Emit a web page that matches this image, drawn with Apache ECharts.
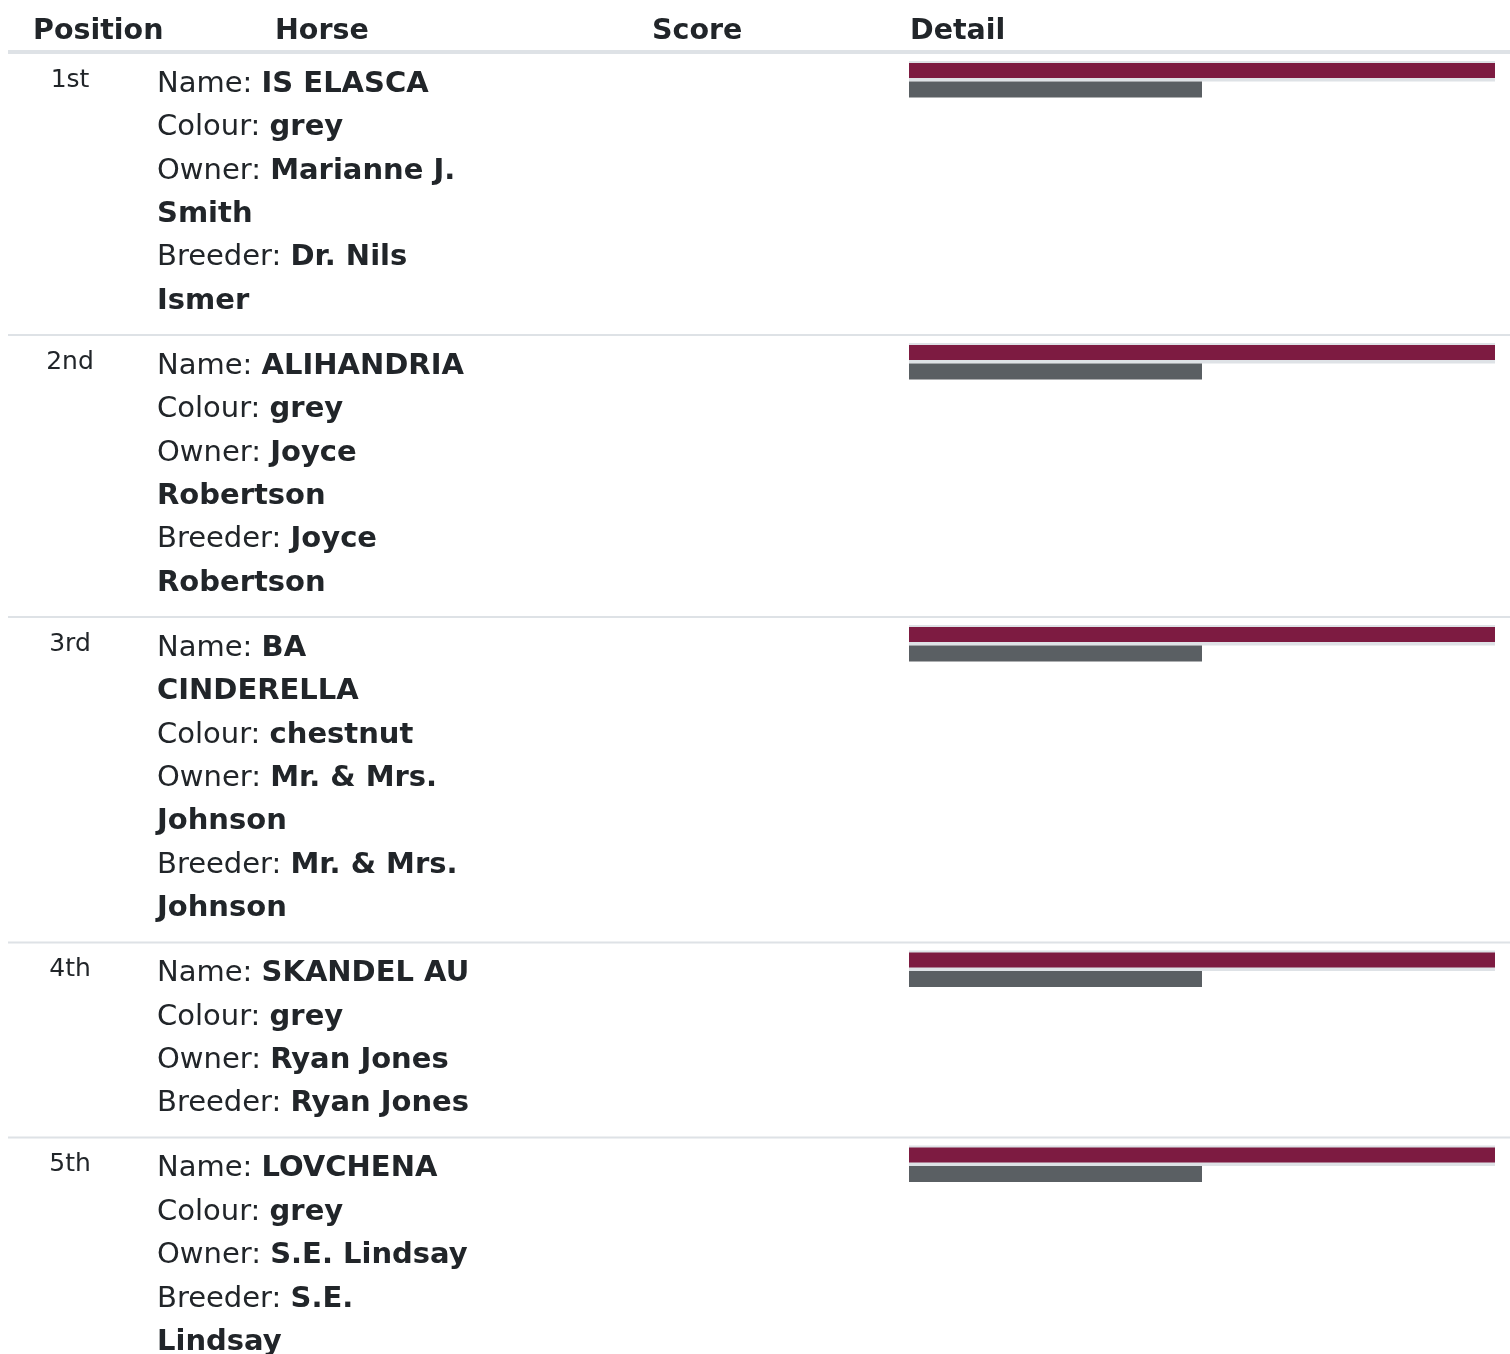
<!DOCTYPE html>
<html>
<head>
<meta charset="utf-8">
<script src="https://cdn.jsdelivr.net/npm/echarts@6/dist/echarts.min.js"></script>
<style>
  html, body { margin: 0; padding: 0; background: #fff; }
  #chart { width: 1510px; height: 1354px; }
</style>
</head>
<body>
<div id="chart"></div>
<script>
// table data
var headers = ['Position', 'Horse', 'Score', 'Detail'];
var positions = ['1st', '2nd', '3rd', '4th', '5th'];
var horseNames = ['IS ELASCA', 'ALIHANDRIA', 'BA CINDERELLA', 'SKANDEL AU', 'LOVCHENA'];
var colours = ['grey', 'grey', 'chestnut', 'grey', 'grey'];
var owners = ['Marianne J. Smith', 'Joyce Robertson', 'Mr. & Mrs. Johnson', 'Ryan Jones', 'S.E. Lindsay'];
var breeders = ['Dr. Nils Ismer', 'Joyce Robertson', 'Mr. & Mrs. Johnson', 'Ryan Jones', 'S.E. Lindsay'];
// bars in the Detail column
var scoreMax = 100;
var scores = [100, 100, 100, 100, 100];      // maroon bar
var details = [50, 50, 50, 50, 50];          // grey bar
var topMarks = [100, 100, null, 100, null];  // thin maroon line above the track
var barRows = ['score', 'detail'];

var FONT = '"DejaVu Sans", sans-serif';
var TEXT = '#212529';
var MAROON = '#7d1b41';
var GREY = '#5a5f63';
var TRACK = '#dee2e6';
var LINE_H = 43.4;
var BODY = 29;

var ctx = document.createElement('canvas').getContext('2d');
function textW(s, bold) {
  ctx.font = (bold ? 'bold ' : '') + BODY + 'px ' + FONT;
  return ctx.measureText(s).width;
}

// break "Label: value words" the way the narrow table column does
function wrapField(label, value, maxW) {
  var lines = [];
  var cur = { label: label, words: [] };
  value.split(' ').forEach(function (w) {
    var trial = cur.words.concat([w]).join(' ');
    var width = (cur.label ? textW(cur.label, false) : 0) + textW(trial, true);
    if (cur.words.length && width > maxW) {
      lines.push(cur);
      cur = { label: '', words: [w] };
    } else {
      cur.words.push(w);
    }
  });
  lines.push(cur);
  return lines;
}

var rich = {
  l: { fontSize: BODY, fontFamily: FONT, fill: TEXT },
  b: { fontSize: BODY, fontFamily: FONT, fontWeight: 'bold', fill: TEXT }
};

var graphic = [];
var grid = [], xAxis = [], yAxis = [], series = [];

// header
var headerX = [33, 275, 652, 910];
headers.forEach(function (h, i) {
  graphic.push({
    type: 'text', x: headerX[i], y: 32,
    style: { text: h, fontSize: 28.5, fontFamily: FONT, fontWeight: 'bold', fill: TEXT, verticalAlign: 'middle' }
  });
});
graphic.push({ type: 'rect', shape: { x: 8, y: 50, width: 1502, height: 4 }, style: { fill: TRACK } });

var top0 = 53;
positions.forEach(function (pos, i) {
  var lines = []
    .concat(wrapField('Name: ', horseNames[i], 320))
    .concat(wrapField('Colour: ', colours[i], 320))
    .concat(wrapField('Owner: ', owners[i], 320))
    .concat(wrapField('Breeder: ', breeders[i], 320));

  graphic.push({
    type: 'text', x: 70, y: top0 + 27,
    style: { text: pos, fontSize: 25, fontFamily: FONT, fill: TEXT, align: 'center', verticalAlign: 'middle' }
  });
  lines.forEach(function (ln, k) {
    var t = (ln.label ? '{l|' + ln.label + '}' : '') + '{b|' + ln.words.join(' ') + '}';
    graphic.push({
      type: 'text', x: 157, y: top0 + 31.3 + k * LINE_H,
      style: { text: t, rich: rich, fontSize: BODY, fontFamily: FONT, fill: TEXT, verticalAlign: 'middle' }
    });
  });

  // bars
  grid.push({ left: 909, width: 586, top: top0 + 8, height: 38 });
  xAxis.push({ type: 'value', gridIndex: i, min: 0, max: scoreMax, show: false });
  for (var k = 0; k < 3; k++) {
    yAxis.push({ type: 'category', gridIndex: i, data: barRows, inverse: true, show: false });
  }
  series.push({
    type: 'bar', xAxisIndex: i, yAxisIndex: i * 3, data: [topMarks[i], null],
    barWidth: 1.5, barGap: '-100%', z: 3, itemStyle: { color: MAROON }, silent: true
  });
  series.push({
    type: 'bar', xAxisIndex: i, yAxisIndex: i * 3, data: [scoreMax, null],
    barWidth: 22, barGap: '-100%', z: 2, itemStyle: { color: TRACK }, silent: true
  });
  series.push({
    type: 'bar', xAxisIndex: i, yAxisIndex: i * 3 + 1, data: [scores[i], null],
    barWidth: 15, z: 4, itemStyle: { color: MAROON }, silent: true
  });
  series.push({
    type: 'bar', xAxisIndex: i, yAxisIndex: i * 3 + 2, data: [null, details[i]],
    barWidth: 16, z: 4, itemStyle: { color: GREY }, silent: true
  });

  var next = top0 + lines.length * LINE_H + 21.6;
  graphic.push({ type: 'rect', shape: { x: 8, y: next - 1, width: 1502, height: 2 }, style: { fill: TRACK } });
  top0 = next;
});

var chart = echarts.init(document.getElementById('chart'));
chart.setOption({
  animation: false,
  backgroundColor: '#fff',
  grid: grid,
  xAxis: xAxis,
  yAxis: yAxis,
  series: series,
  graphic: graphic
});
</script>
</body>
</html>
